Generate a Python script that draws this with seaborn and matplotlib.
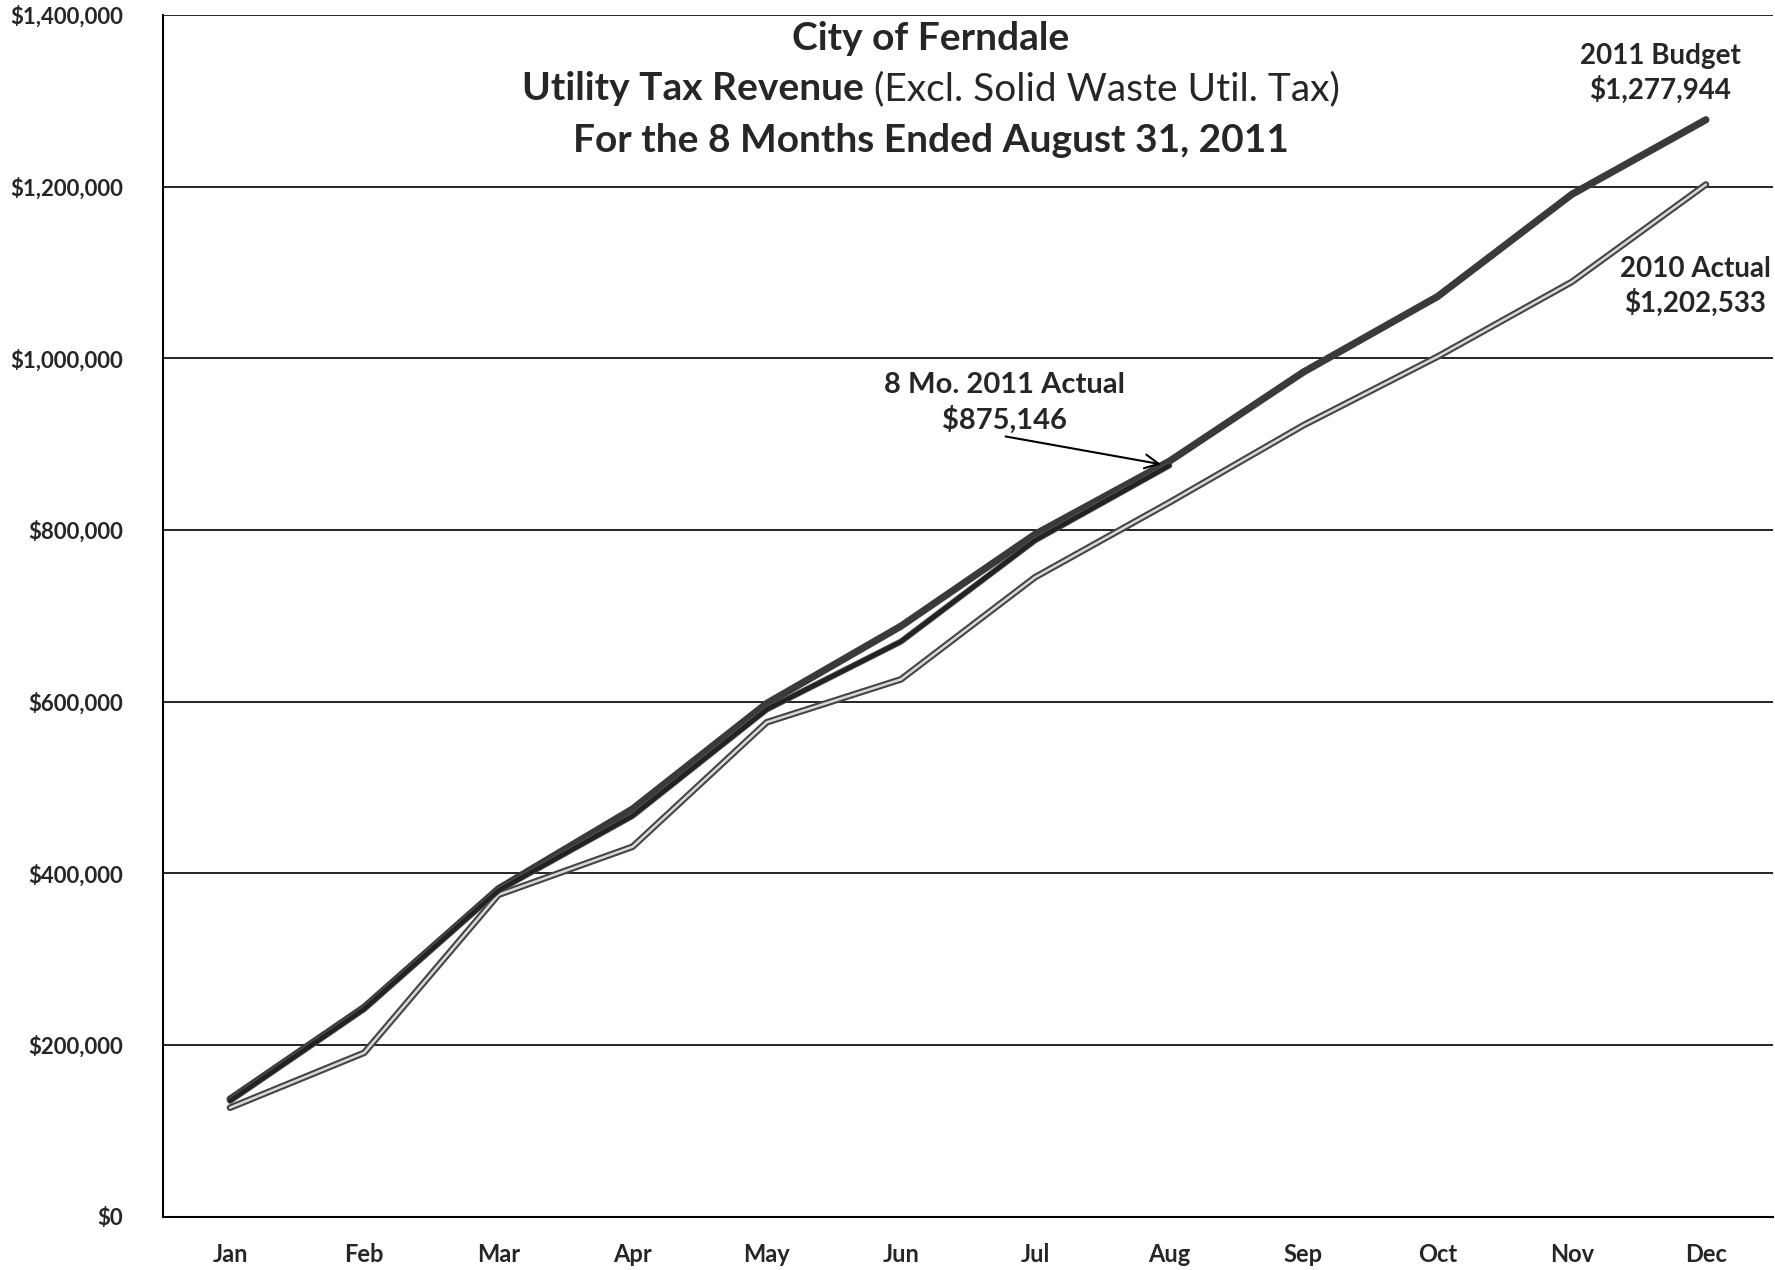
import numpy as np
import pandas as pd
import matplotlib
matplotlib.use("Agg")
import matplotlib.pyplot as plt
import matplotlib.patheffects as pe
import seaborn as sns

# --- data ---
months = ["Jan", "Feb", "Mar", "Apr", "May", "Jun",
          "Jul", "Aug", "Sep", "Oct", "Nov", "Dec"]
budget_2011 = [137000, 244000, 382000, 475000, 598000, 688000,
               795000, 880000, 984000, 1072000, 1191000, 1277944]
actual_2010 = [127000, 191000, 375000, 431000, 576000, 626000,
               745000, 832000, 922000, 1002000, 1089000, 1202533]
actual_2011 = [135000, 242000, 380000, 467000, 591000, 670000,
               788000, 875146]
y_ticks = [0, 200000, 400000, 600000, 800000, 1000000, 1200000, 1400000]

# --- style ---
sns.set_style("white")
plt.rcParams["font.family"] = ["Lato", "DejaVu Sans"]

df_budget = pd.DataFrame({"month": months, "value": budget_2011})
df_2010 = pd.DataFrame({"month": months, "value": actual_2010})
df_2011 = pd.DataFrame({"month": months[:len(actual_2011)], "value": actual_2011})

fig = plt.figure(figsize=(17.75, 12.7), dpi=100)
ax = fig.add_axes([163 / 1775, 53.3 / 1270, 1610 / 1775, 1201.7 / 1270])

# 2011 budget - thick dark line
sns.lineplot(data=df_budget, x="month", y="value", ax=ax, sort=False,
             color="#3a3a3a", lw=5.2, zorder=3)
# 2010 actual - light line with dark outline
sns.lineplot(data=df_2010, x="month", y="value", ax=ax, sort=False,
             color="#d8d8d8", lw=1.8, zorder=2,
             path_effects=[pe.Stroke(linewidth=4.8, foreground="#444444"), pe.Normal()])
# 8 mo. 2011 actual - dark line
sns.lineplot(data=df_2011, x="month", y="value", ax=ax, sort=False,
             color="#222222", lw=3.2, zorder=4,
             path_effects=[pe.Stroke(linewidth=4.4, foreground="#555555"), pe.Normal()])

# --- axes ---
ax.set_xlim(-0.5, 11.5)
ax.set_ylim(0, 1400000)
ax.set_yticks(y_ticks)
ax.set_yticklabels(["${:,.0f}".format(v) for v in y_ticks])
ax.set_xticks(range(12))
ax.set_xticklabels(months)
ax.set_xticks(np.arange(-0.5, 12, 1), minor=True)
ax.set_xlabel("")
ax.set_ylabel("")

ax.yaxis.grid(True, color="black", lw=1.2)
ax.set_axisbelow(True)
for s in ["top", "right"]:
    ax.spines[s].set_visible(False)
for s in ["left", "bottom"]:
    ax.spines[s].set_color("black")
    ax.spines[s].set_linewidth(1.5)

ax.tick_params(axis="x", which="major", length=0, pad=19, labelsize=17)
ax.tick_params(axis="x", which="minor", length=6, width=1.3, color="black", direction="out")
ax.tick_params(axis="y", length=5, width=1.2, color="black", direction="out", pad=24, labelsize=16)
for lbl in ax.get_xticklabels() + ax.get_yticklabels():
    lbl.set_fontweight("bold")

# --- annotations ---
ax.text(10.66, 1332000, "2011 Budget\n$1,277,944", ha="center", va="center",
        fontsize=20, fontweight="bold", linespacing=1.3, clip_on=False)
ax.text(10.92, 1084000, "2010 Actual\n$1,202,533", ha="center", va="center",
        fontsize=20, fontweight="bold", linespacing=1.3, clip_on=False)
ax.text(5.77, 948000, "8 Mo. 2011 Actual\n$875,146", ha="center", va="center",
        fontsize=21, fontweight="bold", linespacing=1.3)
ax.annotate("", xy=(6.99, actual_2011[-1]), xytext=(5.78, 909000),
            arrowprops=dict(arrowstyle="->", color="black", lw=1.5,
                            mutation_scale=25, shrinkA=0, shrinkB=5))

# --- title (second line mixes bold and regular) ---
cx = 931 / 1775
fig.text(cx, 1 - 38 / 1270, "City of Ferndale", ha="center", va="center",
         fontsize=28, fontweight="bold")
fig.text(cx, 1 - 140 / 1270, "For the 8 Months Ended August 31, 2011", ha="center",
         va="center", fontsize=28, fontweight="bold")

y2 = 1 - 89 / 1270
t_bold = fig.text(0, y2, "Utility Tax Revenue", ha="left", va="center",
                  fontsize=28, fontweight="bold")
t_reg = fig.text(0, y2, " (Excl. Solid Waste Util. Tax)", ha="left", va="center",
                 fontsize=28)
renderer = fig.canvas.get_renderer()
w_bold = t_bold.get_window_extent(renderer).width / fig.bbox.width
w_reg = t_reg.get_window_extent(renderer).width / fig.bbox.width
x0 = cx - (w_bold + w_reg) / 2
t_bold.set_x(x0)
t_reg.set_x(x0 + w_bold)

fig.savefig("out.png", dpi=100)
